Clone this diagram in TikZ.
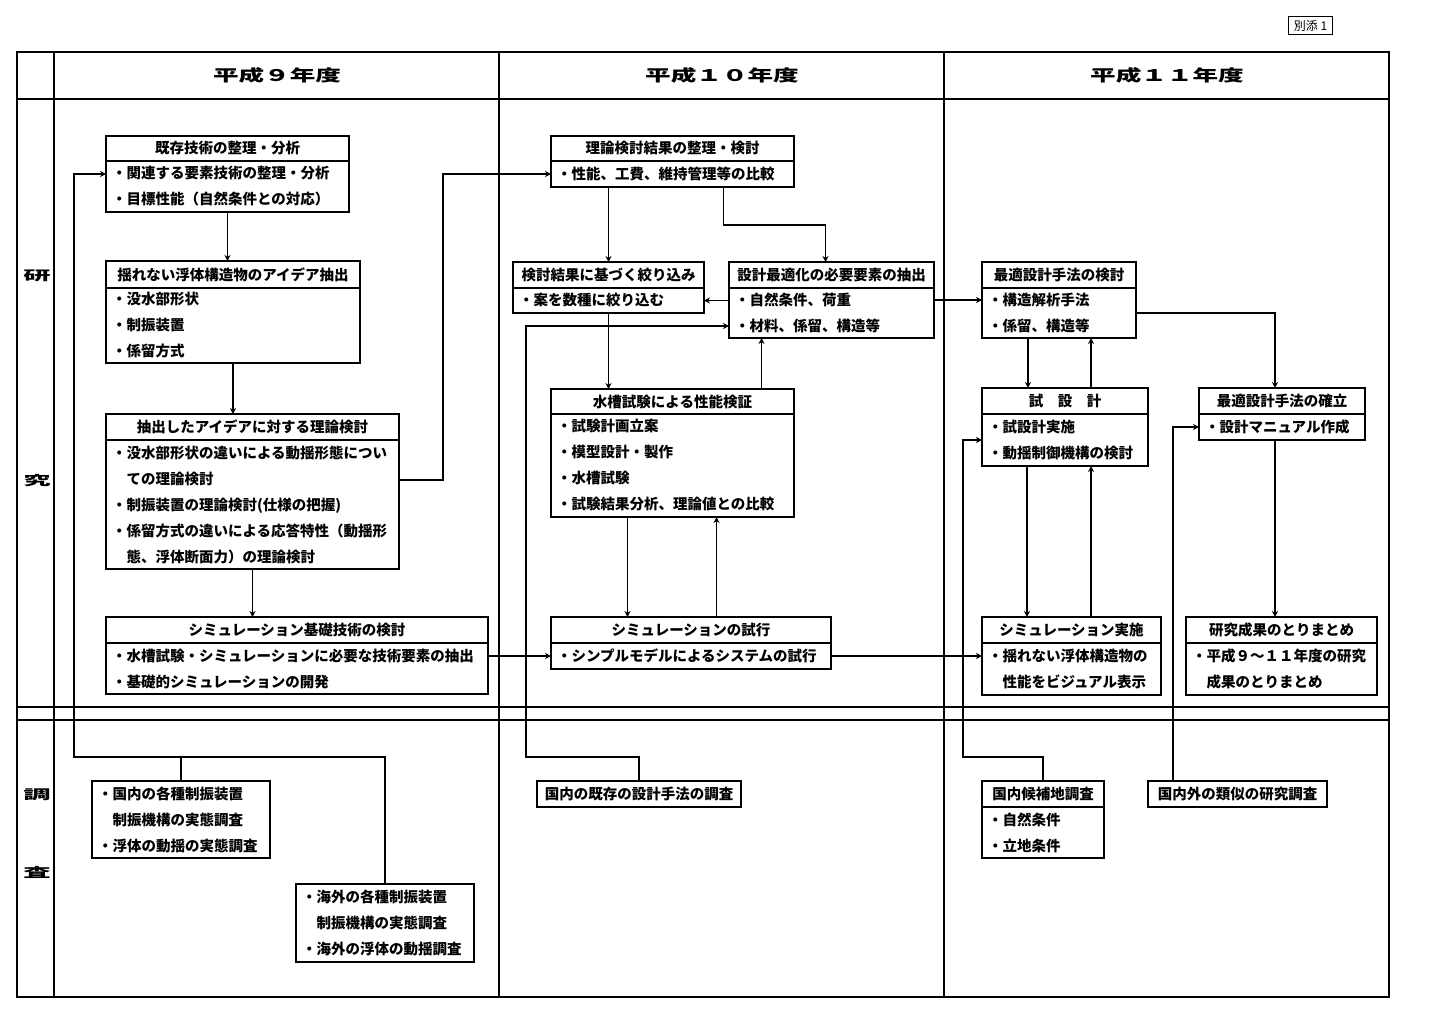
\documentclass[tikz,border=0pt]{standalone}
\usepackage{fontspec}
\usepackage{graphicx}
\usetikzlibrary{arrows.meta,positioning,calc}
\newfontfamily\jpfont{Noto Sans CJK JP}
\newcommand\boxfont{\jpfont\bfseries\fontsize{14.5pt}{26pt}\selectfont}
\newcommand\headfont{\jpfont\bfseries\fontsize{16pt}{18pt}\selectfont}
\newcommand\sidefont{\jpfont\bfseries\fontsize{13pt}{13pt}\selectfont}
\newcommand\stretchx[2][1.6]{\scalebox{#1}[1]{#2}}
\tikzset{
  tbl/.style  = {line width=1.6pt},
  ttl/.style  = {draw, line width=2.6pt, anchor=north west, minimum height=26pt,
                 inner sep=0pt, outer sep=0pt, font=\boxfont},
  lst/.style  = {draw, line width=1.6pt, inner xsep=6pt, inner ysep=0pt, outer sep=0pt,
                 align=left, font=\boxfont},
  svy/.style  = {lst, anchor=north west},
  sig/.style  = {-{Stealth[length=6pt,width=6pt]}, line width=1.6pt},
  wire/.style = {line width=1.6pt},
  head/.style = {font=\headfont, inner sep=0pt},
  side/.style = {font=\sidefont, inner sep=0pt},
}

\begin{document}
\begin{tikzpicture}[x=1pt, y=-1pt]
  \useasboundingbox (0,0) rectangle (1439,1021);
  \draw[tbl] (17,52) rectangle (1389,997);
  \foreach \x in {54,499,944} \draw[tbl] (\x,52) -- (\x,997);
  \foreach \y in {99,707,720} \draw[tbl] (17,\y) -- (1389,\y);

  \node[draw, line width=1.2pt, anchor=north west, minimum width=44pt, minimum height=18pt,
        inner sep=0pt, font=\jpfont\fontsize{12pt}{12pt}\selectfont] (betten) at (1288,16) {別添 1};

  \node[head] (h9)  at (277,75)  {\stretchx{平成９年度}};
  \node[head] (h10) at (722,75)  {\stretchx{平成１０年度}};
  \node[head] (h11) at (1167,75) {\stretchx{平成１１年度}};
  \node[side] (ken)  at (37,276) {\stretchx[2.1]{研}};
  \node[side] (kyu)  at (37,481) {\stretchx[2.1]{究}};
  \node[side] (cho)  at (37,795) {\stretchx[2.1]{調}};
  \node[side] (sa)   at (37,872) {\stretchx[2.1]{査}};

  \node[ttl, minimum width=243pt, minimum height=25pt] (seiri) at (106,136) {既存技術の整理・分析};
  \node[lst, below right=0pt and 0pt of seiri.south west, text width=231pt, minimum height=51pt] (seiri-l)
    {・関連する要素技術の整理・分析\\・目標性能（自然条件との対応）};
  \node[ttl, minimum width=254pt, minimum height=27pt] (idea) at (106,261) {揺れない浮体構造物のアイデア抽出};
  \node[lst, below right=0pt and 0pt of idea.south west, text width=242pt, minimum height=75pt] (idea-l)
    {・没水部形状\\・制振装置\\・係留方式};
  \node[ttl, minimum width=293pt] (riron) at (106,414) {抽出したアイデアに対する理論検討};
  \node[lst, below right=0pt and 0pt of riron.south west, text width=281pt, minimum height=129pt] (riron-l)
    {・没水部形状の違いによる動揺形態につい\\　ての理論検討\\・制振装置の理論検討(仕様の把握)\\・係留方式の違いによる応答特性（動揺形\\　態、浮体断面力）の理論検討};
  \node[ttl, minimum width=382pt] (simk) at (106,617) {シミュレーション基礎技術の検討};
  \node[lst, below right=0pt and 0pt of simk.south west, text width=370pt, minimum height=51pt] (simk-l)
    {・水槽試験・シミュレーションに必要な技術要素の抽出\\・基礎的シミュレーションの開発};

  \node[ttl, minimum width=243pt, minimum height=25pt] (kekka) at (551,136) {理論検討結果の整理・検討};
  \node[lst, below right=0pt and 0pt of kekka.south west, text width=231pt, minimum height=26pt] (kekka-l)
    {・性能、工費、維持管理等の比較};
  \node[ttl, minimum width=191pt] (shibori) at (513,262) {検討結果に基づく絞り込み};
  \node[lst, below right=0pt and 0pt of shibori.south west, text width=179pt, minimum height=25pt] (shibori-l)
    {・案を数種に絞り込む};
  \node[ttl, minimum width=205pt] (yoso) at (729,262) {設計最適化の必要要素の抽出};
  \node[lst, below right=0pt and 0pt of yoso.south west, text width=193pt, minimum height=50pt] (yoso-l)
    {・自然条件、荷重\\・材料、係留、構造等};
  \node[ttl, minimum width=243pt, minimum height=25pt] (suiso) at (551,389) {水槽試験による性能検証};
  \node[lst, below right=0pt and 0pt of suiso.south west, text width=231pt, minimum height=103pt] (suiso-l)
    {・試験計画立案\\・模型設計・製作\\・水槽試験\\・試験結果分析、理論値との比較};
  \node[ttl, minimum width=280pt] (shiko) at (551,617) {シミュレーションの試行};
  \node[lst, below right=0pt and 0pt of shiko.south west, text width=268pt, minimum height=26pt] (shiko-l)
    {・シンプルモデルによるシステムの試行};

  \node[ttl, minimum width=154pt] (saiteki) at (982,262) {最適設計手法の検討};
  \node[lst, below right=0pt and 0pt of saiteki.south west, text width=142pt, minimum height=50pt] (saiteki-l)
    {・構造解析手法\\・係留、構造等};
  \node[ttl, minimum width=166pt] (shisekkei) at (982,388) {試　設　計};
  \node[lst, below right=0pt and 0pt of shisekkei.south west, text width=154pt, minimum height=52pt] (shisekkei-l)
    {・試設計実施\\・動揺制御機構の検討};
  \node[ttl, minimum width=179pt] (simj) at (982,617) {シミュレーション実施};
  \node[lst, below right=0pt and 0pt of simj.south west, text width=167pt, minimum height=52pt] (simj-l)
    {・揺れない浮体構造物の\\　性能をビジュアル表示};
  \node[ttl, minimum width=166pt] (kakuritsu) at (1199,388) {最適設計手法の確立};
  \node[lst, below right=0pt and 0pt of kakuritsu.south west, text width=154pt, minimum height=26pt] (kakuritsu-l)
    {・設計マニュアル作成};
  \node[ttl, minimum width=191pt] (torimatome) at (1186,617) {研究成果のとりまとめ};
  \node[lst, below right=0pt and 0pt of torimatome.south west, text width=179pt, minimum height=52pt] (torimatome-l)
    {・平成９～１１年度の研究\\　成果のとりまとめ};

  \node[svy, text width=166pt, minimum height=77pt] (kokunai) at (92,781)
    {・国内の各種制振装置\\　制振機構の実態調査\\・浮体の動揺の実態調査};
  \node[svy, text width=166pt, minimum height=78pt] (kaigai) at (296,884)
    {・海外の各種制振装置\\　制振機構の実態調査\\・海外の浮体の動揺調査};
  \node[svy, align=center, text width=192pt, minimum height=26pt] (kizon) at (537,781) {国内の既存の設計手法の調査};
  \node[ttl, minimum width=122pt] (kohochi) at (982,781) {国内候補地調査};
  \node[lst, below right=0pt and 0pt of kohochi.south west, text width=110pt, minimum height=51pt] (kohochi-l)
    {・自然条件\\・立地条件};
  \node[svy, align=center, text width=167pt, minimum height=26pt] (ruiji) at (1148,781) {国内外の類似の研究調査};

  \coordinate (busA) at (74,757);
  \coordinate (busB) at (526,757);
  \coordinate (busC) at (963,757);

  \draw[sig] (seiri-l.south) -- (seiri-l.south |- idea.north);
  \draw[sig] (idea-l.south) -- (idea-l.south |- riron.north);
  \draw[sig] (riron-l.south) -- (riron-l.south |- simk.north);
  \draw[sig] ($(riron-l.east)+(0,-24.5)$) -- ++(44,0) |- (kekka-l.west);
  \draw[sig] (shiko-l.west -| simk-l.east) -- (shiko-l.west);
  \draw[sig] (kaigai.north) |- (busA) |- ($(seiri-l.west)+(0,-12.5)$);
  \draw[wire] (kokunai.north) -- (kokunai.north |- busA);

  \draw[sig] (shibori.north |- kekka-l.south) -- (shibori.north);
  \draw[sig] ($(kekka-l.south)+(51,0)$) -- ++(0,38) -| ($(yoso.north)+(-6,0)$);
  \draw[sig] (shibori-l.east -| yoso-l.west) -- (shibori-l.east);
  \draw[sig] (shibori-l.south) -- (shibori-l.south |- suiso.north);
  \draw[sig] ($(yoso-l.south |- suiso.north)+(-70,0)$) -- ($(yoso-l.south)+(-70,0)$);
  \draw[sig] (kizon.north) |- (busB) |- ($(yoso-l.west)+(0,13)$);
  \draw[sig] ($(suiso-l.south)+(-45,0)$) -- ($(suiso-l.south |- shiko.north)+(-45,0)$);
  \draw[sig] ($(suiso-l.south |- shiko.north)+(44,0)$) -- ($(suiso-l.south)+(44,0)$);
  \draw[sig] (shiko-l.east) -- (shiko-l.east -| simj-l.west);

  \draw[sig] ($(yoso-l.east)+(0,-13)$) -- ($(saiteki-l.west)+(0,-13)$);
  \draw[sig] ($(saiteki-l.south)+(-31,0)$) -- ($(saiteki-l.south |- shisekkei.north)+(-31,0)$);
  \draw[sig] ($(saiteki-l.south |- shisekkei.north)+(32,0)$) -- ($(saiteki-l.south)+(32,0)$);
  \draw[sig] (saiteki-l.east) -| ($(kakuritsu.north)+(-7,0)$);
  \draw[sig] ($(shisekkei-l.south)+(-38,0)$) -- ($(shisekkei-l.south |- simj.north)+(-38,0)$);
  \draw[sig] ($(shisekkei-l.south |- simj.north)+(26,0)$) -- ($(shisekkei-l.south)+(26,0)$);
  \draw[sig] (kohochi.north) |- (busC) |- (shisekkei-l.west);
  \draw[sig] ($(kakuritsu-l.south)+(-7,0)$) -- ($(kakuritsu-l.south |- torimatome.north)+(-7,0)$);
  \draw[sig] ($(ruiji.north)+(-64.5,0)$) |- (kakuritsu-l.west);
\end{tikzpicture}
\end{document}
